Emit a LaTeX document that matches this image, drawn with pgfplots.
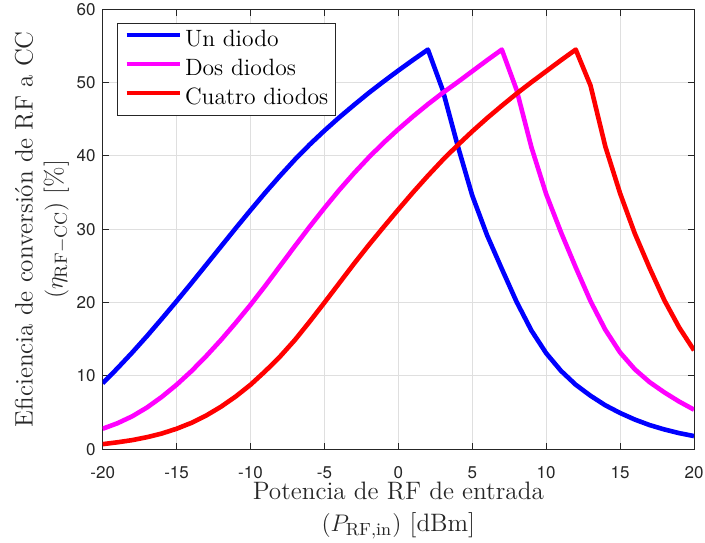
\documentclass[border=0pt]{standalone}
\usepackage{fontspec}
\usepackage{pgfplots}
\pgfplotsset{compat=1.18}
\newfontfamily\ticksf{TeX Gyre Heros}
\definecolor{axisgray}{RGB}{38,38,38}
\definecolor{gridgray}{RGB}{223,223,223}

\begin{document}
\begin{tikzpicture}
\begin{axis}[
  scale only axis,
  width=295.65pt, height=220pt,
  xmin=-20, xmax=20, ymin=0, ymax=60,
  xtick={-20,-15,...,20},
  xticklabels={-20,-15,-10,-5,0,5,10,15,20},
  ytick={0,10,...,60},
  yticklabels={0,10,20,30,40,50,60},
  tick align=inside,
  major tick length=3.2pt,
  tick style={axisgray, line width=0.5pt},
  axis line style={axisgray, line width=0.5pt},
  grid=major,
  major grid style={gridgray, line width=0.5pt},
  ticklabel style={font=\fontsize{8.5}{10}\ticksf, text=axisgray},
  xticklabel style={yshift=-5pt},
  every axis x label/.style={at={(axis description cs:0.5,-0.0735)}, anchor=north,
    inner sep=0pt, align=center, font=\fontsize{12.6}{16}\selectfont, text=axisgray},
  every axis y label/.style={at={(axis description cs:-0.0565,0.5)}, rotate=90, anchor=south,
    inner sep=0pt, align=center, font=\fontsize{12.6}{15}\selectfont, text=axisgray},
  xlabel={Potencia de RF de entrada\\$(P_{\mathrm{RF,in}})$ [dBm]},
  ylabel={Eficiencia de conversión de RF a CC\\$(\eta_{\mathrm{RF-CC}})$ [\%]},
  legend style={at={(axis description cs:0.0242,0.968)}, anchor=north west,
    draw=axisgray, line width=0.5pt, fill=white,
    inner xsep=3.35pt, inner ysep=2pt,
    font=\fontsize{11.8}{14}\selectfont,
    row sep=1.65pt, column sep=1.6pt,
    nodes={inner sep=0pt, text height=9.35pt, text depth=3.5pt}},
  legend cell align=left,
  legend image code/.code={\draw[#1] (0pt,2.85pt) -- (26.5pt,2.85pt);},
  every axis plot/.append style={line width=2.3pt, line join=round},
]
% one diode
\addplot[color={rgb,1:red,0;green,0;blue,1}] coordinates {
 (-20,9.0)(-19,11.05)(-18,13.2)(-17,15.45)(-16,17.8)(-15,20.2)(-14,22.65)(-13,25.15)
 (-12,27.65)(-11,30.15)(-10,32.6)(-9,35.0)(-8,37.3)(-7,39.5)(-6,41.55)(-5,43.45)
 (-4,45.25)(-3,46.95)(-2,48.6)(-1,50.15)(0,51.65)(1,53.1)(2,54.5)(3,49.0)(4,41.5)
 (5,34.6)(6,29.2)(7,24.6)(8,20.1)(9,16.2)(10,13.1)(11,10.7)(12,8.8)(13,7.3)
 (14,6.0)(15,4.95)(16,4.05)(17,3.3)(18,2.7)(19,2.2)(20,1.8)};
\addlegendentry{Un diodo}
% two diodes
\addplot[color={rgb,1:red,1;green,0;blue,1}] coordinates {
 (-20,2.8)(-19,3.55)(-18,4.5)(-17,5.7)(-16,7.15)(-15,8.8)(-14,10.65)(-13,12.7)
 (-12,14.9)(-11,17.25)(-10,19.7)(-9,22.3)(-8,25.0)(-7,27.7)(-6,30.35)(-5,32.9)
 (-4,35.35)(-3,37.65)(-2,39.8)(-1,41.8)(0,43.65)(1,45.4)(2,47.05)(3,48.6)(4,50.05)
 (5,51.55)(6,53.05)(7,54.5)(8,49.0)(9,41.2)(10,34.8)(11,29.6)(12,24.8)(13,20.2)
 (14,16.3)(15,13.2)(16,10.9)(17,9.15)(18,7.75)(19,6.5)(20,5.4)};
\addlegendentry{Dos diodos}
% four diodes
\addplot[color={rgb,1:red,1;green,0;blue,0}] coordinates {
 (-20,0.7)(-19,0.95)(-18,1.25)(-17,1.65)(-16,2.15)(-15,2.8)(-14,3.6)(-13,4.6)
 (-12,5.8)(-11,7.2)(-10,8.8)(-9,10.65)(-8,12.65)(-7,14.9)(-6,17.4)(-5,20.0)
 (-4,22.65)(-3,25.3)(-2,27.85)(-1,30.3)(0,32.7)(1,35.05)(2,37.3)(3,39.45)(4,41.45)
 (5,43.35)(6,45.15)(7,46.85)(8,48.5)(9,50.05)(10,51.55)(11,53.05)(12,54.5)(13,49.6)
 (14,41.3)(15,34.9)(16,29.4)(17,24.7)(18,20.3)(19,16.6)(20,13.5)};
\addlegendentry{Cuatro diodos}
\coordinate (bbSW) at (rel axis cs:-0.17368,-0.21295);
\coordinate (bbNE) at (rel axis cs:1.01860,1.02114);
\end{axis}
\pgfresetboundingbox
\path[use as bounding box] (bbSW) rectangle (bbNE);
\end{tikzpicture}
\end{document}
